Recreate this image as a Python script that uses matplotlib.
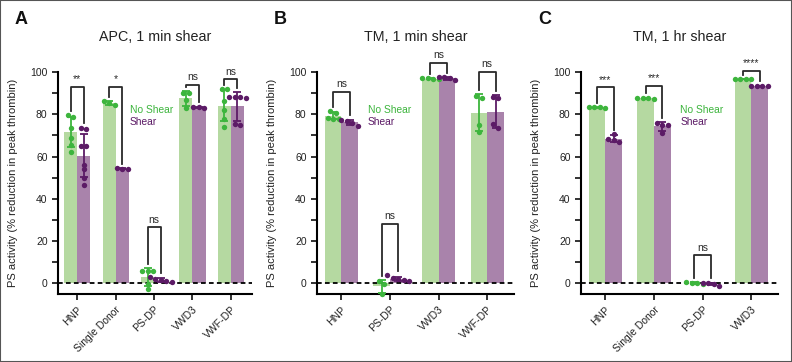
import numpy as np
import matplotlib
matplotlib.use("Agg")
import matplotlib.pyplot as plt
from matplotlib.patches import Rectangle

plt.rcParams['font.family'] = ['Liberation Sans', 'DejaVu Sans']
NARROW = ['Liberation Sans Narrow', 'Liberation Sans', 'DejaVu Sans']

GREEN_BAR = '#b5d9a1'
PURPLE_BAR = '#a983ab'
GREEN = '#3db53d'
PURPLE = '#5c1b66'

# panel A: APC, 1 min shear
a_groups = ["HNP", "Single Donor", "PS-DP", "VWD3", "VWF-DP"]
a_no_shear = [[79.5, 78.8, 73.7, 69.0, 65.6, 62.1],
              [86.4, 85.2, 84.6],
              [6.1, 6.0, 6.1, -0.5, -2.8],
              [90.2, 90.0, 86.8, 83.0],
              [91.8, 91.8, 86.2, 82.0, 78.0, 73.9]]
a_shear = [[73.7, 73.1, 65.2, 65.0, 55.8, 53.9, 50.1, 46.7],
           [54.6, 54.3, 54.1],
           [3.0, 2.0, 1.5, 1.0, 0.8],
           [83.0, 83.3, 83.6],
           [88.4, 88.4, 87.6, 88.0, 75.5, 74.7]]
a_bracket = [92.9, 92.9, 26.6, 93.9, 96.5]
a_sig = ["**", "*", "ns", "ns", "ns"]

# panel B: TM, 1 min shear
b_groups = ["HNP", "PS-DP", "VWD3", "VWF-DP"]
b_no_shear = [[81.5, 80.8, 78.0, 77.8, 78.3],
              [1.0, -0.2, -4.8],
              [96.8, 97.1, 97.0, 96.5],
              [88.7, 87.5, 75.0, 71.4]]
b_shear = [[77.2, 77.0, 76.1, 74.5],
           [1.4, 1.9, 2.4, 3.9, 1.2],
           [96.0, 97.0, 97.5, 97.6],
           [88.3, 87.6, 75.5, 73.7]]
b_bracket = [90.7, 28.2, 104.4, 100.2]
b_sig = ["ns", "ns", "ns", "ns"]

# panel C: TM, 1 hr shear
c_groups = ["HNP", "Single Donor", "PS-DP", "VWD3"]
c_no_shear = [[83.3, 83.5, 83.0, 83.4],
              [87.3, 87.8, 87.8, 87.5],
              [0.4, 0.1, -0.4, 0.8],
              [96.6, 96.6, 96.5, 96.6]]
c_shear = [[68.0, 68.5, 70.5, 67.0],
           [76.0, 74.9, 74.9, 71.3],
           [0.2, -0.3, -1.2, 0.3],
           [93.6, 93.5, 93.6, 93.5]]
c_bracket = [92.8, 93.4, 13.4, 100.6]
c_sig = ["***", "***", "ns", "****"]


def swarm_offsets(vals, dx, tol=1.8):
    # spread points with close values side by side, like a column scatter
    order = np.argsort(vals)[::-1]
    offs = np.zeros(len(vals))
    clusters = [[order[0]]]
    for i in order[1:]:
        if abs(vals[clusters[-1][-1]] - vals[i]) < tol:
            clusters[-1].append(i)
        else:
            clusters.append([i])
    for c in clusters:
        k = len(c)
        for j, idx in enumerate(c):
            offs[idx] = (j - (k - 1) / 2) * dx
    return offs


def draw_panel(fig, rect, groups, no_shear, shear, bracket, sig, title, letter, legend_x):
    ax = fig.add_axes(rect)
    n = len(groups)
    x = np.arange(n)
    w = 0.34
    ax.set_xlim(-0.5, n - 0.45)
    ax.set_ylim(-5, 100)
    dx = 5.5 / (ax.bbox.width / (n + 0.05))

    for i in range(n):
        leg_ends = []
        for vals, off, bc, pc in [(no_shear[i], -w / 2, GREEN_BAR, GREEN),
                                  (shear[i], w / 2, PURPLE_BAR, PURPLE)]:
            v = np.array(vals)
            m = v.mean()
            sd = v.std(ddof=1)
            ax.bar(x[i] + off, m, width=w, color=bc, zorder=1)
            ax.errorbar(x[i] + off, m, yerr=sd, color=pc, capsize=3,
                        elinewidth=1.3, capthick=1.3, zorder=4)
            ax.scatter(x[i] + off + swarm_offsets(v, dx), v, s=15, color=pc,
                       linewidths=0, zorder=5, clip_on=False)
            leg_ends.append(max(v.max(), m + sd) + 2.0)
        x0, x1 = x[i] - w / 2, x[i] + w / 2
        top = bracket[i]
        ax.plot([x0, x0, x1, x1], [leg_ends[0], top, top, leg_ends[1]],
                color='#2a2a2a', lw=1.3, clip_on=False, zorder=6)
        ax.text(x[i], top + 1.2, sig[i], ha='center', va='bottom',
                fontsize=7.5, color='#2a2a2a')

    ax.axhline(0, color='k', lw=1.3, ls=(0, (2.6, 1.8)), zorder=3)

    for s in ['top', 'right']:
        ax.spines[s].set_visible(False)
    for s in ['left', 'bottom']:
        ax.spines[s].set_linewidth(1.5)
    ax.set_yticks(np.arange(0, 101, 20))
    ax.set_yticks(np.arange(10, 100, 20), minor=True)
    ax.tick_params(axis='both', which='both', length=4, width=1.3, labelsize=7.5,
                   colors='#222222')
    ax.set_xticks(x)
    ax.set_xticklabels(groups, rotation=45, ha='right', rotation_mode='anchor')
    ax.set_ylabel("PS activity (% reduction in peak thrombin)", fontsize=8,
                  family=NARROW, color='#222222')
    ax.yaxis.set_label_coords(-40.0 / ax.bbox.width, 0.5)

    ax.text(legend_x, 0.829, "No Shear", transform=ax.transAxes, color=GREEN,
            fontsize=7.4, va='center')
    ax.text(legend_x, 0.775, "Shear", transform=ax.transAxes, color=PURPLE,
            fontsize=7.4, va='center')

    cx = rect[0] + rect[2] / 2
    fig.text(cx, 1 - 37 / 362, title, ha='center', va='center', fontsize=10.3,
             color='#222222')
    fig.text(rect[0] - 43 / 792, 1 - 19 / 362, letter, ha='left', va='center',
             fontsize=13, fontweight='bold', color='#111111')
    return ax


fig = plt.figure(figsize=(7.92, 3.62), dpi=100)
bottom = 1 - 294 / 362
height = 222 / 362
draw_panel(fig, [58 / 792, bottom, 194 / 792, height], a_groups, a_no_shear, a_shear,
           a_bracket, a_sig, "APC, 1 min shear", "A", 0.371)
draw_panel(fig, [317 / 792, bottom, 197 / 792, height], b_groups, b_no_shear, b_shear,
           b_bracket, b_sig, "TM, 1 min shear", "B", 0.259)
draw_panel(fig, [581 / 792, bottom, 197 / 792, height], c_groups, c_no_shear, c_shear,
           c_bracket, c_sig, "TM, 1 hr shear", "C", 0.503)

fig.add_artist(Rectangle((0, 0), 1, 1, transform=fig.transFigure, fill=False,
                         lw=1.5, ec='#555555'))
fig.savefig("out.png", dpi=100)
